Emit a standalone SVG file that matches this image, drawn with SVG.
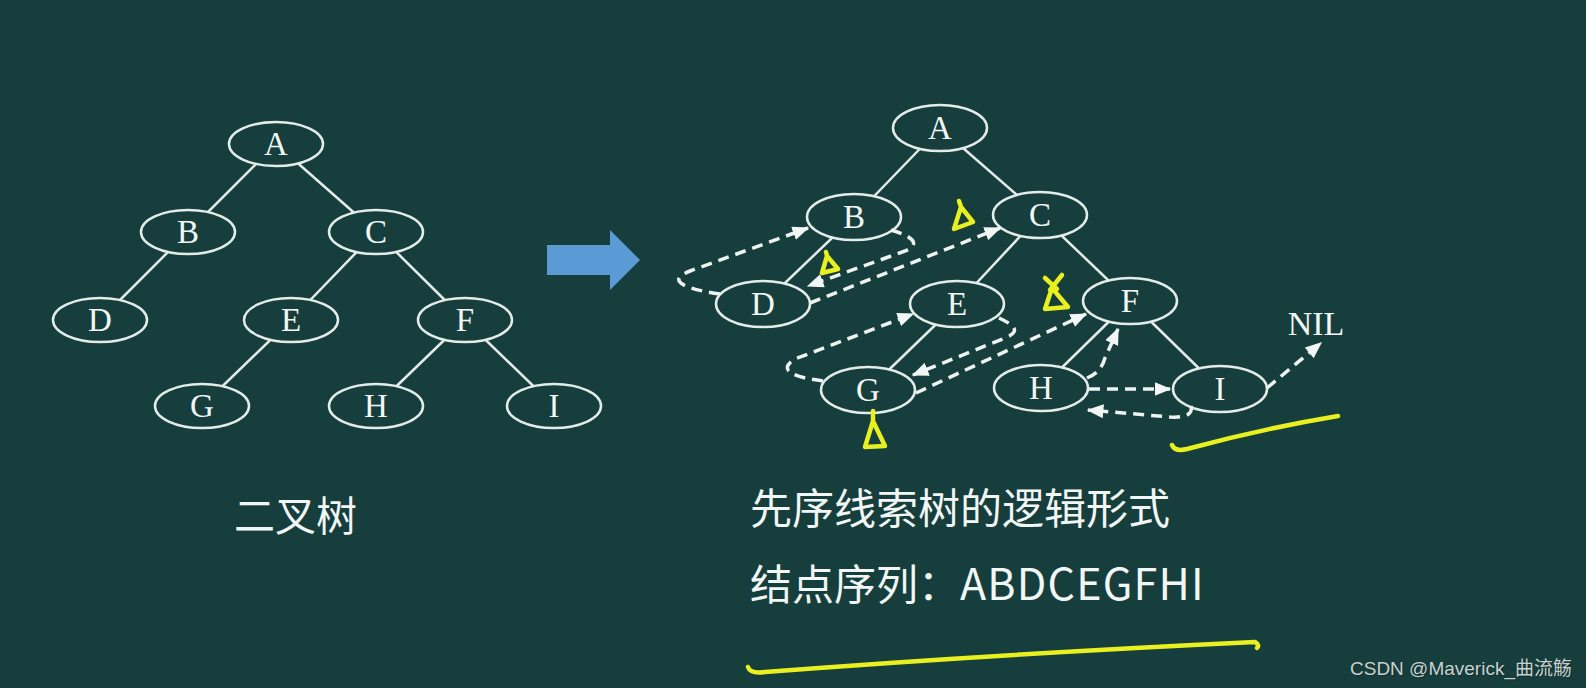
<svg xmlns="http://www.w3.org/2000/svg" width="1586" height="688" viewBox="0 0 1586 688">
<defs>
<style>
.bg{fill:#153e3d}
.node ellipse{fill:#153e3d;stroke:#e4ecea;stroke-width:2.5}
.node text{font-family:"Liberation Serif","Times New Roman",serif;font-size:33px;fill:#f2f6f4;text-anchor:middle}
.edge line{stroke:#e4ecea;stroke-width:2.5}
.thread path{fill:none;stroke:#eef3f1;stroke-width:3.5;stroke-dasharray:11 7;marker-end:url(#ah)}
.mark{fill:none;stroke:#e8f020;stroke-width:4.5;stroke-linecap:round;stroke-linejoin:round}
.cap{font-family:"Noto Sans CJK SC","Noto Sans",sans-serif;fill:#f2f6f4}
</style>
<marker id="ah" viewBox="0 0 12 10" refX="11" refY="5" markerWidth="17" markerHeight="14" markerUnits="userSpaceOnUse" orient="auto">
<path d="M0,0 L12,5 L0,10 Z" fill="#f2f6f4"/>
</marker>
</defs>
<rect class="bg" x="0" y="0" width="1586" height="688"/>

<!-- left tree edges -->
<g id="edges-left" class="edge">
<line x1="276" y1="144" x2="188" y2="232"/>
<line x1="276" y1="144" x2="376" y2="232"/>
<line x1="188" y1="232" x2="100" y2="320"/>
<line x1="376" y1="232" x2="291" y2="320"/>
<line x1="376" y1="232" x2="465" y2="320"/>
<line x1="291" y1="320" x2="202" y2="406"/>
<line x1="465" y1="320" x2="376" y2="406"/>
<line x1="465" y1="320" x2="554" y2="406"/>
</g>
<g id="L-A" class="node"><ellipse cx="276" cy="144" rx="47" ry="22"/><text x="276" y="155">A</text></g>
<g id="L-B" class="node"><ellipse cx="188" cy="232" rx="47" ry="22"/><text x="188" y="243">B</text></g>
<g id="L-C" class="node"><ellipse cx="376" cy="232" rx="47" ry="22"/><text x="376" y="243">C</text></g>
<g id="L-D" class="node"><ellipse cx="100" cy="320" rx="47" ry="22"/><text x="100" y="331">D</text></g>
<g id="L-E" class="node"><ellipse cx="291" cy="320" rx="47" ry="22"/><text x="291" y="331">E</text></g>
<g id="L-F" class="node"><ellipse cx="465" cy="320" rx="47" ry="22"/><text x="465" y="331">F</text></g>
<g id="L-G" class="node"><ellipse cx="202" cy="406" rx="47" ry="22"/><text x="202" y="417">G</text></g>
<g id="L-H" class="node"><ellipse cx="376" cy="406" rx="47" ry="22"/><text x="376" y="417">H</text></g>
<g id="L-I" class="node"><ellipse cx="554" cy="406" rx="47" ry="22"/><text x="554" y="417">I</text></g>

<text class="cap" x="234" y="531" font-size="41">二叉树</text>

<!-- block arrow -->
<path id="big-arrow" d="M547,245 L610,245 L610,230 L640,260 L610,290 L610,275 L547,275 Z" fill="#5b9bd5"/>

<!-- right tree edges -->
<g id="edges-right" class="edge">
<line x1="940" y1="128" x2="854" y2="217"/>
<line x1="940" y1="128" x2="1040" y2="215"/>
<line x1="854" y1="217" x2="763" y2="304"/>
<line x1="1040" y1="215" x2="957" y2="304"/>
<line x1="1040" y1="215" x2="1130" y2="301"/>
<line x1="957" y1="304" x2="868" y2="390"/>
<line x1="1130" y1="301" x2="1041" y2="388"/>
<line x1="1130" y1="301" x2="1220" y2="389"/>
</g>
<g id="R-A" class="node"><ellipse cx="940" cy="128" rx="47" ry="23"/><text x="940" y="139">A</text></g>
<g id="R-B" class="node"><ellipse cx="854" cy="217" rx="47" ry="23"/><text x="854" y="228">B</text></g>
<g id="R-C" class="node"><ellipse cx="1040" cy="215" rx="47" ry="23"/><text x="1040" y="226">C</text></g>
<g id="R-D" class="node"><ellipse cx="763" cy="304" rx="47" ry="23"/><text x="763" y="315">D</text></g>
<g id="R-E" class="node"><ellipse cx="957" cy="304" rx="47" ry="23"/><text x="957" y="315">E</text></g>
<g id="R-F" class="node"><ellipse cx="1130" cy="301" rx="47" ry="23"/><text x="1130" y="312">F</text></g>
<g id="R-G" class="node"><ellipse cx="868" cy="390" rx="47" ry="23"/><text x="868" y="401">G</text></g>
<g id="R-H" class="node"><ellipse cx="1041" cy="388" rx="47" ry="23"/><text x="1041" y="399">H</text></g>
<g id="R-I" class="node"><ellipse cx="1220" cy="389" rx="47" ry="23"/><text x="1220" y="400">I</text></g>
<g id="NIL" class="node"><text x="1316" y="335" style="font-size:34px">NIL</text></g>

<!-- thread connectors -->
<g id="threads" class="thread">
<path d="M720,294 C692,290 662,282 690,271 L808,228"/>
<path d="M891,230 C908,235 924,243 905,251 L808,286"/>
<path d="M810,303 L1000,228"/>
<path d="M823,381 C800,378 774,372 795,359 L913,314"/>
<path d="M999,318 C1014,325 1022,331 1005,338 L913,375"/>
<path d="M916,393 L1086,314"/>
<path d="M1087,378 C1097,374 1102,368 1105,358 L1118,329"/>
<path d="M1089,389 L1170,389"/>
<path d="M1191,406 C1193,414 1186,418 1170,417 L1088,410"/>
<path d="M1267,388 L1321,343"/>
</g>

<!-- handwritten marks -->
<g id="marks" class="mark">
<path d="M961,207 L954,229 L973,222 Z M961,207 L959,201"/>
<path d="M827,256 L822,273 L838,269 Z M827,256 L826,252"/>
<path d="M1052,288 L1045,309 L1068,307 Z M1045,278 L1057,289 M1062,275 L1050,290"/>
<path d="M873,421 L865,447 L885,446 Z M873,421 L873,411"/>
<path d="M1172,445 Q1175,452 1187,449 Q1260,429 1338,416"/>
<path d="M748,667 Q750,674 765,672 Q1000,654 1255,642 Q1260,645 1257,648"/>
</g>

<text class="cap" x="750" y="524" font-size="42">先序线索树的逻辑形式</text>
<text class="cap" x="750" y="600" font-size="42">结点序列：<tspan font-size="43" letter-spacing="1.2">ABDCEGFHI</tspan></text>

<text x="1351" y="676" font-size="19" fill="#0c2423" font-family="Liberation Sans, Arial, Noto Sans CJK SC, sans-serif" opacity="0.6">CSDN @Maverick_曲流觞</text>
<text x="1350" y="675" font-size="19" fill="#c9d1ce" font-family="Liberation Sans, Arial, Noto Sans CJK SC, sans-serif">CSDN @Maverick_曲流觞</text>
</svg>
